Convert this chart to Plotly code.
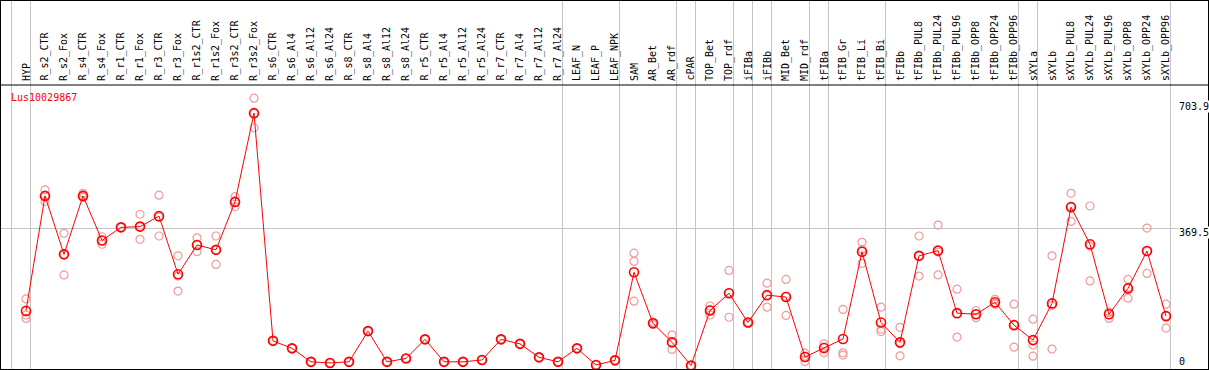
import plotly.graph_objects as go

categories = ["HYP", "R_s2_CTR", "R_s2_Fox", "R_s4_CTR", "R_s4_Fox", "R_r1_CTR", "R_r1_Fox",
              "R_r3_CTR", "R_r3_Fox", "R_r1s2_CTR", "R_r1s2_Fox", "R_r3s2_CTR", "R_r3s2_Fox",
              "R_s6_CTR", "R_s6_Al4", "R_s6_Al12", "R_s6_Al24", "R_s8_CTR", "R_s8_Al4", "R_s8_Al12",
              "R_s8_Al24", "R_r5_CTR", "R_r5_Al4", "R_r5_Al12", "R_r5_Al24", "R_r7_CTR", "R_r7_Al4",
              "R_r7_Al12", "R_r7_Al24", "LEAF_N", "LEAF_P", "LEAF_NPK", "SAM", "AR_Bet", "AR_rdf",
              "cPAR", "TOP_Bet", "TOP_rdf", "iFIBa", "iFIBb", "MID_Bet", "MID_rdf", "tFIBa",
              "tFIB_Gr", "tFIB_Li", "tFIB_Bi", "tFIBb", "tFIBb_PUL8", "tFIBb_PUL24", "tFIBb_PUL96",
              "tFIBb_OPP8", "tFIBb_OPP24", "tFIBb_OPP96", "sXYLa", "sXYLb", "sXYLb_PUL8",
              "sXYLb_PUL24", "sXYLb_PUL96", "sXYLb_OPP8", "sXYLb_OPP24", "sXYLb_OPP96"]

means = [149, 456, 300, 456, 337, 372, 374, 402, 247, 325, 312, 440, 677,
         69, 49, 13, 10, 13, 95, 13, 22, 73, 13, 13, 18, 73, 61, 25, 13,
         49, 4.5, 17, 252, 116, 65, 3, 150, 196, 118, 191, 186, 26, 50,
         74, 307, 118, 65, 296, 310, 143, 140, 172, 111, 71, 169, 426,
         327, 140, 209, 309, 135]

rep_a = [181, 472, 356, 463, 347, 372, 407, 458, 296, 344, 349, 454, 717,
         69, 49, 13, 10, 13, 95, 13, 22, 73, 13, 13, 18, 73, 61, 25, 13,
         49, 4.5, 17, 303, 116, 85, 3, 162, 257, 116, 223, 233, 36, 61,
         153, 332, 159, 105, 349, 378, 207, 150, 180, 167, 127, 296, 463,
         429, 129, 233, 370, 167]
rep_b = [138, 441, 245, 452, 327, 372, 340, 349, 202, 307, 273, 427, 638,
         69, 49, 13, 10, 13, 95, 13, 22, 73, 13, 13, 18, 73, 61, 25, 13,
         49, 4.5, 17, 281, 113, 46, 3, 138, 132, 120, 159, 137, 14, 37,
         37, 276, 100, 29, 242, 245, 79, 131, 169, 52, 58, 47, 388,
         229, 145, 183, 249, 103]
rep_c = [129, 456, 300, 456, 337, 372, 374, 399, 242, 325, 312, 440, 676,
         69, 49, 13, 10, 13, 95, 13, 22, 73, 13, 13, 18, 73, 61, 25, 13,
         49, 4.5, 17, 175, 119, 64, 3, 151, 198, 117, 190, 188, 28, 52,
         31, 313, 94, 61, 296, 306, 142, 140, 167, 112, 28, 164, 428,
         322, 146, 211, 308, 136]

gene_label = "Lus10029867"
y_tick_values = [0, 369.5, 703.9]
group_boundaries = [-1, 0, 28, 31, 34, 35, 37, 38, 39, 41, 42, 45, 52, 53, 60]

idx = list(range(len(categories)))

fig = go.Figure()
rx, ry = [], []
for reps in (rep_a, rep_b, rep_c):
    rx += idx
    ry += reps
fig.add_trace(go.Scatter(x=rx, y=ry, mode="markers",
                         marker=dict(symbol="circle-open", size=8, color="#f09a9a",
                                     line=dict(width=1.2, color="#f09a9a")),
                         hoverinfo="skip", showlegend=False))
fig.add_trace(go.Scatter(x=idx, y=means, mode="lines+markers",
                         line=dict(color="#ff0000", width=1),
                         marker=dict(symbol="circle-open", size=9, color="#ff0000",
                                     line=dict(width=1.6, color="#ff0000")),
                         text=categories, showlegend=False))

mono = "DejaVu Sans Mono"
header_y = 752.1
label_y = 760
annotations = []
for i, c in enumerate(categories):
    annotations.append(dict(x=i, y=label_y, text=c, textangle=-90, showarrow=False,
                            xanchor="center", yanchor="bottom", borderpad=0,
                            font=dict(family=mono, size=10, color="black")))
annotations.append(dict(x=-0.84, y=720, text=gene_label, showarrow=False,
                        xanchor="left", yanchor="middle", borderpad=0,
                        font=dict(family=mono, size=10, color="#ff0000")))
shifts = [5, -3.7, -3.6]
for v, s in zip(y_tick_values, shifts):
    annotations.append(dict(x=60.63, y=v, yshift=s, text=str(v), showarrow=False,
                            xanchor="left", yanchor="middle", borderpad=0, bgcolor="white",
                            font=dict(family=mono, size=10, color="black")))

fig.update_layout(
    width=1209, height=370,
    margin=dict(l=1, r=1, t=1, b=1),
    paper_bgcolor="white", plot_bgcolor="white",
    xaxis=dict(range=[-1.316, 62.21], tickvals=[b + 0.26 for b in group_boundaries],
               showticklabels=False, ticks="", showgrid=True, gridcolor="#c4c4c4",
               gridwidth=1, zeroline=False, showline=True, mirror=True,
               linecolor="black", linewidth=1),
    yaxis=dict(range=[-6.14, 976.4], tickvals=[369.5], showticklabels=False, ticks="",
               showgrid=True, gridcolor="#c4c4c4", gridwidth=1, zeroline=False,
               showline=True, mirror=True, linecolor="black", linewidth=1),
    annotations=annotations,
    shapes=[dict(type="line", xref="paper", x0=0, x1=1, yref="y", y0=header_y, y1=header_y,
                 line=dict(color="black", width=1))],
)

fig.write_html("out.html", config={"displayModeBar": False},
               post_script="document.body.style.margin='0';document.body.style.overflow='hidden';")
